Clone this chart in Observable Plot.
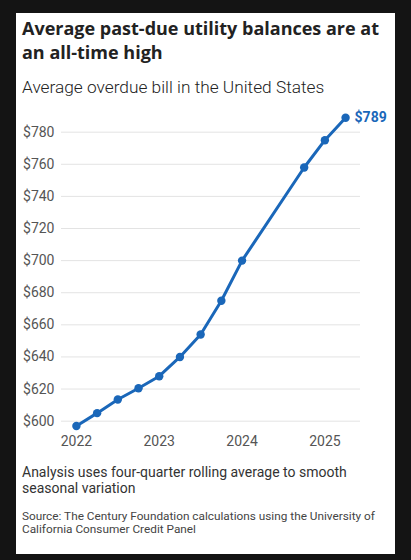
<!DOCTYPE html>
<html>
<head>
<meta charset="utf-8">
<script src="https://cdn.jsdelivr.net/npm/d3@7"></script>
<script src="https://cdn.jsdelivr.net/npm/@observablehq/plot@0.6"></script>
<style>
  html, body { margin: 0; padding: 0; }
  body { width: 411px; height: 560px; background: #141414; position: relative; overflow: hidden; font-family: Roboto, "Noto Sans", sans-serif; }
  #card { position: absolute; left: 16px; top: 13px; width: 379px; height: 541px; background: #fff; }
  #title { position: absolute; left: 6px; top: 4.4px; width: 372px; font-family: "Open Sans", Roboto, sans-serif; font-size: 18px; font-weight: 700; line-height: 23.3px; color: #222; }
  #subtitle { position: absolute; left: 6px; top: 63px; font-size: 17.3px; font-weight: 300; color: #222; line-height: 22px; }
  #chart { position: absolute; left: 0; top: 87px; }
  #note { position: absolute; left: 6px; top: 450.5px; width: 360px; font-size: 14px; line-height: 16.4px; color: #333; }
  #source { position: absolute; left: 6px; top: 496.8px; width: 370px; font-size: 11.8px; line-height: 13.4px; color: #444; }
</style>
</head>
<body>
<div id="card">
  <div id="title">Average past-due utility balances are at an all-time high</div>
  <div id="subtitle">Average overdue bill in the United States</div>
  <div id="chart"></div>
  <div id="note">Analysis uses four-quarter rolling average to smooth seasonal variation</div>
  <div id="source">Source: The Century Foundation calculations using the University of California Consumer Credit Panel</div>
</div>
<script>
const dates = [2022, 2022.25, 2022.5, 2022.75, 2023, 2023.25, 2023.5, 2023.75, 2024, 2024.75, 2025, 2025.25];
const values = [597, 605, 613.5, 620.5, 628, 640, 654, 675, 700, 758, 775, 789];
const xTicks = [2022, 2023, 2024, 2025];
const yTicks = [600, 620, 640, 660, 680, 700, 720, 740, 760, 780];
const lastLabel = "$789";

const blue = "#1a67b9";
const data = dates.map((d, i) => ({date: d, value: values[i]}));
const last = data[data.length - 1];

const chart = Plot.plot({
  width: 379,
  height: 360,
  marginLeft: 45,
  marginRight: 35,
  marginTop: 12.4,
  marginBottom: 29.7,
  style: { fontFamily: "Roboto, 'Noto Sans', sans-serif", fontSize: "14px", color: "#555", background: "transparent" },
  x: { domain: [2021.82, 2025.43], ticks: xTicks, tickFormat: d => String(d), tickSize: 0, tickPadding: 5, label: null },
  y: { domain: [594, 792], ticks: yTicks, tickFormat: d => "$" + d, tickSize: 0, tickPadding: 7, label: null },
  marks: [
    Plot.gridY(yTicks, { stroke: "#e3e3e3", strokeOpacity: 1, strokeWidth: 1 }),
    Plot.line(data, { x: "date", y: "value", stroke: blue, strokeWidth: 3 }),
    Plot.dot(data, { x: "date", y: "value", fill: blue, r: 4.2 }),
    Plot.text([last], { x: "date", y: "value", text: () => lastLabel, dx: 9, textAnchor: "start", fill: blue, fontWeight: "bold", fontSize: 14 })
  ]
});
document.getElementById("chart").appendChild(chart);
</script>
</body>
</html>
